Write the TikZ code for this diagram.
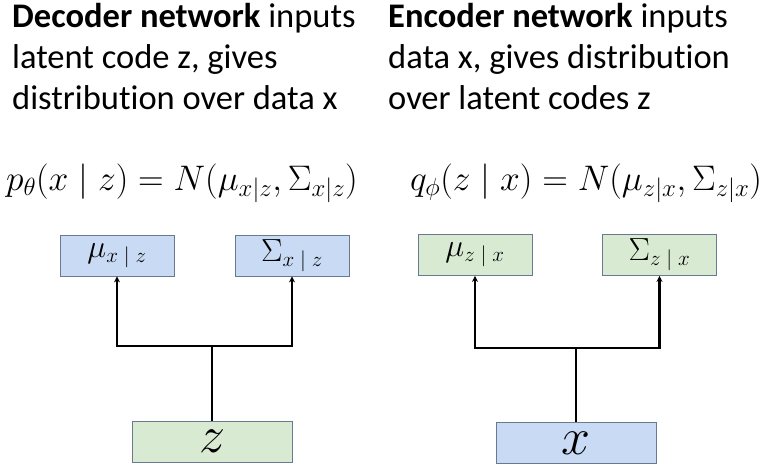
\RequirePackage{fix-cm}
\documentclass[tikz,border=0pt]{standalone}
\usepackage[no-math]{fontspec}
\setmainfont[Ligatures=NoCommon]{Carlito}
\usetikzlibrary{positioning,arrows.meta}
\definecolor{boxblue}{HTML}{C9DAF5}
\definecolor{boxgreen}{HTML}{D9EAD3}
\definecolor{boxline}{HTML}{6A7890}
% box label: symbol with a big subscript
\newcommand{\boxlbl}[2]{$#1_{\hbox{\fontsize{21}{21}\selectfont$#2$}}$}
\tikzset{
>={Stealth[length=6pt,width=6pt]}, % small solid arrow heads
on grid,
heading/.style={align=left, inner sep=0pt, anchor=north west, font=\fontsize{34.5}{41}\selectfont},
formula/.style={inner sep=0pt, anchor=base, font=\fontsize{35.5}{35.5}\selectfont},
vbox/.style={draw=boxline, line width=0.8pt, minimum width=114pt, minimum height=41pt, inner sep=0pt, font=\fontsize{32}{32}\selectfont},
blubox/.style={vbox, fill=boxblue},
grnbox/.style={vbox, fill=boxgreen},
wide/.style={minimum width=160pt, font=\fontsize{52}{52}\selectfont},
link/.style={draw=black, line width=2.2pt}
}

\begin{document}
\begin{tikzpicture}[x=1pt,y=-1pt]
   \useasboundingbox (0,0) rectangle (770,468);
   % decoder side
   \node[heading] (dectxt) at (12,3) {\textbf{Decoder network} inputs\\latent code z, gives\\distribution over data x};
   \node[formula] (decform) at (182,190) {$p_\theta(x\mid z)=N(\mu_{x|z},\Sigma_{x|z})$};
   \node[blubox] (mudec) at (117,255.5) {\boxlbl{\mu}{x\mathrel{|}z}};
   \node[blubox] (sigdec) [right=175pt of mudec] {\boxlbl{\Sigma}{x\mathrel{|}z}};
   \node[grnbox, wide] (zdec) at (212,441.5) {$z$};
   \coordinate[above=75pt of zdec.north] (dsplit);
   % encoder side
   \node[heading] (enctxt) at (388,3) {\textbf{Encoder network} inputs\\data x, gives distribution\\over latent codes z};
   \node[formula] (encform) at (586,190) {$q_\phi(z\mid x)=N(\mu_{z|x},\Sigma_{z|x})$};
   \node[grnbox] (muenc) at (475,255) {\boxlbl{\mu}{z\mathrel{|}x}};
   \node[grnbox] (sigenc) [right=184.5pt of muenc] {\boxlbl{\Sigma}{z\mathrel{|}x}};
   \node[blubox, wide] (xenc) at (576,443) {$x$};
   \coordinate[above=74pt of xenc.north] (esplit);
   \path[link]
    (zdec) edge (dsplit)
    (xenc) edge (esplit);
   \draw[link,->] (dsplit) -| (mudec);
   \draw[link,->] (dsplit) -| (sigdec);
   \draw[link,->] (esplit) -| (muenc);
   \draw[link,->] (esplit) -| (sigenc);
\end{tikzpicture}
\end{document}
